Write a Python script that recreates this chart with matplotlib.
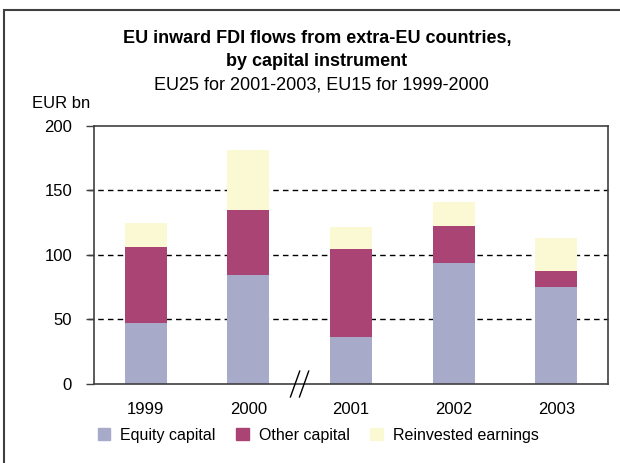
import numpy as np
import matplotlib.pyplot as plt
from matplotlib.patches import Patch, Rectangle
from matplotlib.lines import Line2D
from matplotlib.transforms import ScaledTranslation

plt.rcParams['font.family'] = ['Liberation Sans', 'DejaVu Sans']

# Data (EUR bn)
years = ["1999", "2000", "2001", "2002", "2003"]
equity = [47.5, 84.7, 36.7, 93.3, 75.4]
other = [58.9, 50.3, 68.2, 28.7, 12.4]
reinvested = [17.9, 45.9, 16.3, 18.6, 25.6]

c_equity = "#a8aaca"
c_other = "#aa4474"
c_reinv = "#fbf8d4"
dark = "#404040"

fig = plt.figure(figsize=(6.2, 4.63), dpi=100)
ax = fig.add_axes([0.152, 0.1706, 0.828, 0.558])

x = np.arange(len(years))
w = 0.41
eq = np.array(equity)
ot = np.array(other)
ax.bar(x, equity, w, color=c_equity, zorder=2)
ax.bar(x, other, w, bottom=eq, color=c_other, zorder=2)
ax.bar(x, reinvested, w, bottom=eq + ot, color=c_reinv, zorder=2)

ax.set_xlim(-0.5, len(years) - 0.5)
ax.set_ylim(0, 200)
ax.set_yticks([0, 50, 100, 150, 200])
ax.set_xticks(x)
ax.set_xticklabels(years)
ax.tick_params(axis='y', direction='out', length=6, width=1, color=dark,
               labelsize=12, pad=10)
ax.tick_params(axis='x', length=0, labelsize=12, pad=13)
for s in ax.spines.values():
    s.set_color(dark)
    s.set_linewidth(1.2)

# dashed gridlines, starting where the tick marks start
for v in [50, 100, 150]:
    ax.add_line(Line2D([-0.0117, 1], [v, v], transform=ax.get_yaxis_transform(),
                       color='black', lw=1, ls=(0, (4, 3)), zorder=1,
                       clip_on=False))

# axis break between 2000 and 2001
brk = ax.get_xaxis_transform()
for dx in (-4.5, 4.5):
    off = ScaledTranslation(dx / 100, 0, fig.dpi_scale_trans)
    ax.add_line(Line2D([1.5 - 0.045, 1.5 + 0.045], [-0.05, 0.05],
                       transform=brk + off, color='black', lw=1,
                       clip_on=False, zorder=5))

fig.text(31.7 / 620, 1 - 108.5 / 463, "EUR bn", fontsize=12,
         ha='left', va='baseline')

fig.text(0.511, 1 - 43.5 / 463, "EU inward FDI flows from extra-EU countries,",
         ha='center', va='baseline', fontsize=13, fontweight='bold')
fig.text(0.511, 1 - 66.5 / 463, "by capital instrument",
         ha='center', va='baseline', fontsize=13, fontweight='bold')
fig.text(0.518, 1 - 90 / 463, "EU25 for 2001-2003, EU15 for 1999-2000",
         ha='center', va='baseline', fontsize=13)

handles = [Patch(color=c_equity, label="Equity capital"),
           Patch(color=c_other, label="Other capital"),
           Patch(color=c_reinv, label="Reinvested earnings")]
fig.legend(handles=handles, loc='center', bbox_to_anchor=(0.513, 0.06),
           ncol=3, frameon=False, fontsize=11.5, handlelength=0.8,
           handleheight=0.8, handletextpad=0.6, columnspacing=1.3)

# outer frame
fig.patches.append(Rectangle((4 / 620, -0.05), 1.1, 1 - 10 / 463 + 0.05,
                             transform=fig.transFigure, fill=False,
                             edgecolor=dark, lw=1.5))

fig.savefig("out.png", dpi=100)
